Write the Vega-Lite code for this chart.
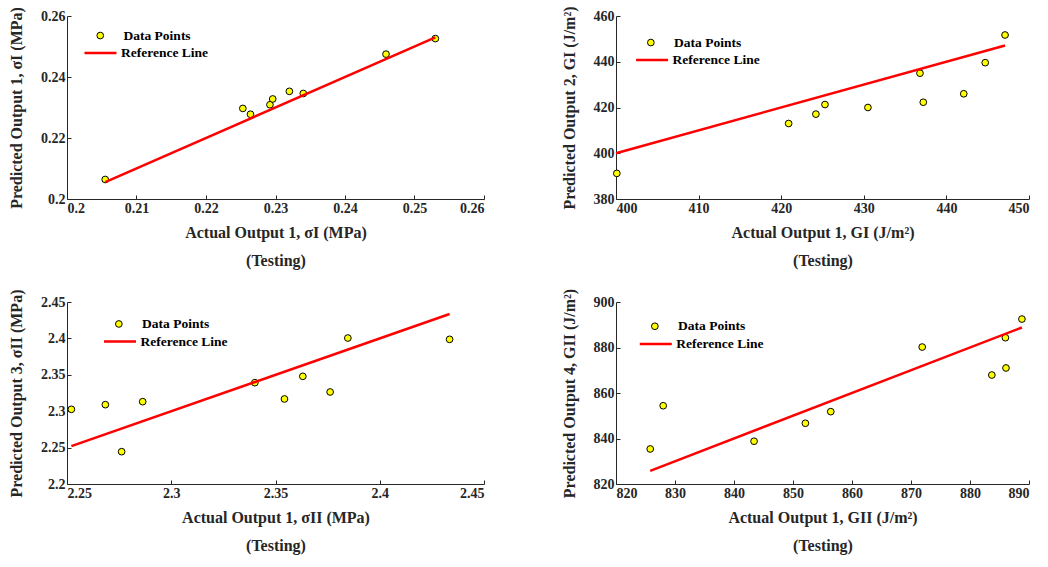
{
  "$schema": "https://vega.github.io/schema/vega-lite/v6.json",
  "background": "white",
  "padding": {"left": 8, "top": 5, "right": 2, "bottom": 2},
  "bounds": "flush",
  "columns": 2,
  "spacing": {"row": 103, "column": 132},
  "resolve": {"scale": {"fill": "independent", "stroke": "independent"}},
  "config": {
    "font": "Liberation Serif",
    "view": {"stroke": null},
    "axis": {
      "grid": false,
      "domainColor": "#262626",
      "domainWidth": 1,
      "tickColor": "#262626",
      "tickSize": -4,
      "tickCount": 20,
      "labelColor": "#262626",
      "labelFont": "Liberation Serif",
      "labelFontWeight": "bold",
      "labelFontSize": 14,
      "labelPadding": 6,
      "labelOverlap": false,
      "titleColor": "#262626",
      "titleFont": "Liberation Serif",
      "titleFontWeight": "bold",
      "titleFontSize": 16
    },
    "axisX": {"titlePadding": 9, "titleLineHeight": 28},
    "axisY": {"titlePadding": 16},
    "legend": {
      "orient": "none",
      "title": null,
      "padding": 0,
      "labelFont": "Liberation Serif",
      "labelFontWeight": "bold",
      "labelFontSize": 13.5,
      "labelColor": "#000000"
    }
  },
  "datasets": {
    "p1": [
      {"actual": 0.2055, "predicted": 0.2064},
      {"actual": 0.2253, "predicted": 0.2297},
      {"actual": 0.2264, "predicted": 0.2278},
      {"actual": 0.2292, "predicted": 0.2309},
      {"actual": 0.2296, "predicted": 0.2328},
      {"actual": 0.2320, "predicted": 0.2353},
      {"actual": 0.2340, "predicted": 0.2346},
      {"actual": 0.2459, "predicted": 0.2475},
      {"actual": 0.2530, "predicted": 0.2526}
    ],
    "p1ref": [
      {"actual": 0.2055, "predicted": 0.2055},
      {"actual": 0.2530, "predicted": 0.2530}
    ],
    "p2": [
      {"actual": 400.1, "predicted": 391.2},
      {"actual": 420.9, "predicted": 413.0},
      {"actual": 424.2, "predicted": 417.1},
      {"actual": 425.3, "predicted": 421.3},
      {"actual": 430.5, "predicted": 420.0},
      {"actual": 436.8, "predicted": 435.0},
      {"actual": 437.2, "predicted": 422.3},
      {"actual": 442.1, "predicted": 426.0},
      {"actual": 444.7, "predicted": 439.6},
      {"actual": 447.1, "predicted": 451.7}
    ],
    "p2ref": [
      {"actual": 400.0, "predicted": 400.0},
      {"actual": 447.1, "predicted": 447.1}
    ],
    "p3": [
      {"actual": 2.2521, "predicted": 2.3026},
      {"actual": 2.2684, "predicted": 2.3090},
      {"actual": 2.2762, "predicted": 2.2444},
      {"actual": 2.2863, "predicted": 2.3131},
      {"actual": 2.3401, "predicted": 2.3392},
      {"actual": 2.3543, "predicted": 2.3168},
      {"actual": 2.3631, "predicted": 2.3479},
      {"actual": 2.3762, "predicted": 2.3264},
      {"actual": 2.3847, "predicted": 2.4005},
      {"actual": 2.4335, "predicted": 2.3987}
    ],
    "p3ref": [
      {"actual": 2.2521, "predicted": 2.2521},
      {"actual": 2.4335, "predicted": 2.4335}
    ],
    "p4": [
      {"actual": 825.8, "predicted": 835.4},
      {"actual": 828.0, "predicted": 854.4},
      {"actual": 843.4, "predicted": 838.8},
      {"actual": 852.1, "predicted": 846.7},
      {"actual": 856.4, "predicted": 851.8},
      {"actual": 871.9, "predicted": 880.2},
      {"actual": 883.7, "predicted": 867.9},
      {"actual": 886.0, "predicted": 884.3},
      {"actual": 886.1, "predicted": 871.0},
      {"actual": 888.8, "predicted": 892.5}
    ],
    "p4ref": [
      {"actual": 825.8, "predicted": 825.8},
      {"actual": 888.8, "predicted": 888.8}
    ]
  },
  "concat": [
    {
      "width": 417,
      "height": 183,
      "layer": [
        {
          "data": {"name": "p1"},
          "mark": {"type": "point", "filled": true, "stroke": "#000000", "strokeWidth": 1, "size": 45, "opacity": 1},
          "encoding": {
            "x": {"field": "actual", "type": "quantitative",
                  "scale": {"domain": [0.2, 0.26], "nice": false, "zero": false},
                  "axis": {"values": [0.2, 0.21, 0.22, 0.23, 0.24, 0.25, 0.26], "format": ".2~f", "tickCount": 20, "labelOverlap": false,
                           "title": ["Actual Output 1, σI (MPa)", "(Testing)"]}},
            "y": {"field": "predicted", "type": "quantitative",
                  "scale": {"domain": [0.2, 0.26], "nice": false, "zero": false},
                  "axis": {"values": [0.2, 0.22, 0.24, 0.26], "format": ".2~f", "tickCount": 20, "labelOverlap": false,
                           "title": "Predicted Output 1, σI (MPa)"}},
            "fill": {"datum": "Data Points", "type": "nominal",
                     "scale": {"range": ["#ffff00"]},
                     "legend": {"legendX": 26.5, "legendY": 12.8, "symbolType": "circle", "symbolSize": 45,
                                "symbolStrokeColor": "#000000", "symbolStrokeWidth": 1, "labelOffset": 16.5}}
          }
        },
        {
          "data": {"name": "p1ref"},
          "mark": {"type": "line", "strokeWidth": 2.5},
          "encoding": {
            "x": {"field": "actual", "type": "quantitative"},
            "y": {"field": "predicted", "type": "quantitative"},
            "stroke": {"datum": "Reference Line", "type": "nominal",
                       "scale": {"range": ["#ff0000"]},
                       "legend": {"legendX": 16, "legendY": 19.6, "symbolType": "stroke", "symbolSize": 1024,
                                  "symbolStrokeWidth": 2.5, "labelOffset": 3}}
          }
        }
      ]
    },
    {
      "width": 413,
      "height": 183,
      "layer": [
        {
          "data": {"name": "p2"},
          "mark": {"type": "point", "filled": true, "stroke": "#000000", "strokeWidth": 1, "size": 45, "opacity": 1},
          "encoding": {
            "x": {"field": "actual", "type": "quantitative",
                  "scale": {"domain": [400, 450], "nice": false, "zero": false},
                  "axis": {"values": [400, 410, 420, 430, 440, 450], "format": "d", "tickCount": 20, "labelOverlap": false,
                           "title": ["Actual Output 1, GI (J/m²)", "(Testing)"]}},
            "y": {"field": "predicted", "type": "quantitative",
                  "scale": {"domain": [380, 460], "nice": false, "zero": false},
                  "axis": {"values": [380, 400, 420, 440, 460], "format": "d", "tickCount": 20, "labelOverlap": false,
                           "title": "Predicted Output 2, GI (J/m²)"}},
            "fill": {"datum": "Data Points", "type": "nominal",
                     "scale": {"range": ["#ffff00"]},
                     "legend": {"legendX": 28.1, "legendY": 19.8, "symbolType": "circle", "symbolSize": 45,
                                "symbolStrokeColor": "#000000", "symbolStrokeWidth": 1, "labelOffset": 16.5}}
          }
        },
        {
          "data": {"name": "p2ref"},
          "mark": {"type": "line", "strokeWidth": 2.5},
          "encoding": {
            "x": {"field": "actual", "type": "quantitative"},
            "y": {"field": "predicted", "type": "quantitative"},
            "stroke": {"datum": "Reference Line", "type": "nominal",
                       "scale": {"range": ["#ff0000"]},
                       "legend": {"legendX": 18.6, "legendY": 26.6, "symbolType": "stroke", "symbolSize": 1024,
                                  "symbolStrokeWidth": 2.5, "labelOffset": 3}}
          }
        }
      ]
    },
    {
      "width": 417,
      "height": 182,
      "layer": [
        {
          "data": {"name": "p3"},
          "mark": {"type": "point", "filled": true, "stroke": "#000000", "strokeWidth": 1, "size": 45, "opacity": 1},
          "encoding": {
            "x": {"field": "actual", "type": "quantitative",
                  "scale": {"domain": [2.25, 2.45], "nice": false, "zero": false},
                  "axis": {"values": [2.25, 2.3, 2.35, 2.4, 2.45], "format": ".2~f", "tickCount": 20, "labelOverlap": false,
                           "title": ["Actual Output 1, σII (MPa)", "(Testing)"]}},
            "y": {"field": "predicted", "type": "quantitative",
                  "scale": {"domain": [2.2, 2.45], "nice": false, "zero": false},
                  "axis": {"values": [2.2, 2.25, 2.3, 2.35, 2.4, 2.45], "format": ".2~f", "tickCount": 20, "labelOverlap": false,
                           "title": "Predicted Output 3, σII (MPa)"}},
            "fill": {"datum": "Data Points", "type": "nominal",
                     "scale": {"range": ["#ffff00"]},
                     "legend": {"legendX": 45.1, "legendY": 15.2, "symbolType": "circle", "symbolSize": 45,
                                "symbolStrokeColor": "#000000", "symbolStrokeWidth": 1, "labelOffset": 16.5}}
          }
        },
        {
          "data": {"name": "p3ref"},
          "mark": {"type": "line", "strokeWidth": 2.5},
          "encoding": {
            "x": {"field": "actual", "type": "quantitative"},
            "y": {"field": "predicted", "type": "quantitative"},
            "stroke": {"datum": "Reference Line", "type": "nominal",
                       "scale": {"range": ["#ff0000"]},
                       "legend": {"legendX": 35.5, "legendY": 22, "symbolType": "stroke", "symbolSize": 1024,
                                  "symbolStrokeWidth": 2.5, "labelOffset": 3}}
          }
        }
      ]
    },
    {
      "width": 413,
      "height": 182,
      "layer": [
        {
          "data": {"name": "p4"},
          "mark": {"type": "point", "filled": true, "stroke": "#000000", "strokeWidth": 1, "size": 45, "opacity": 1},
          "encoding": {
            "x": {"field": "actual", "type": "quantitative",
                  "scale": {"domain": [820, 890], "nice": false, "zero": false},
                  "axis": {"values": [820, 830, 840, 850, 860, 870, 880, 890], "format": "d", "tickCount": 20, "labelOverlap": false,
                           "title": ["Actual Output 1, GII (J/m²)", "(Testing)"]}},
            "y": {"field": "predicted", "type": "quantitative",
                  "scale": {"domain": [820, 900], "nice": false, "zero": false},
                  "axis": {"values": [820, 840, 860, 880, 900], "format": "d", "tickCount": 20, "labelOverlap": false,
                           "title": "Predicted Output 4, GII (J/m²)"}},
            "fill": {"datum": "Data Points", "type": "nominal",
                     "scale": {"range": ["#ffff00"]},
                     "legend": {"legendX": 32.1, "legendY": 17.5, "symbolType": "circle", "symbolSize": 45,
                                "symbolStrokeColor": "#000000", "symbolStrokeWidth": 1, "labelOffset": 16.5}}
          }
        },
        {
          "data": {"name": "p4ref"},
          "mark": {"type": "line", "strokeWidth": 2.5},
          "encoding": {
            "x": {"field": "actual", "type": "quantitative"},
            "y": {"field": "predicted", "type": "quantitative"},
            "stroke": {"datum": "Reference Line", "type": "nominal",
                       "scale": {"range": ["#ff0000"]},
                       "legend": {"legendX": 22.3, "legendY": 24.4, "symbolType": "stroke", "symbolSize": 1024,
                                  "symbolStrokeWidth": 2.5, "labelOffset": 3}}
          }
        }
      ]
    }
  ]
}
